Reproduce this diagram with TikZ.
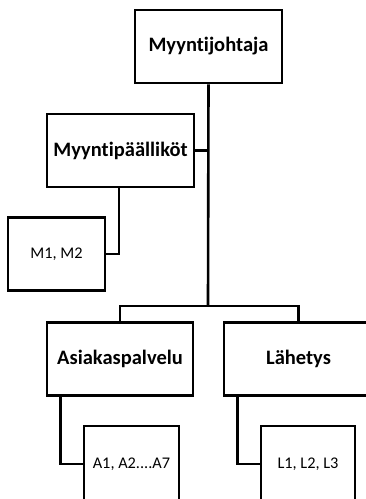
\documentclass[tikz,border=0pt]{standalone}
\usepackage{fontspec}
\setmainfont{Carlito}[Ligatures=NoCommon]
\begin{document}
\begin{tikzpicture}[x=1pt,y=-1pt,
  box/.style={draw=black,fill=white,line width=2.6pt,inner sep=0pt,
    minimum width=#1,minimum height=73pt},
  box/.default=146pt,
  big/.style={font=\fontsize{20.5}{22}\selectfont\bfseries},
  small/.style={font=\fontsize{16.3}{18}\selectfont},
  conn/.style={draw=black,line width=2.6pt}]
\useasboundingbox[fill=white] (0,0) rectangle (366,499);
\node[box=147pt,big] (top) at (208.5,46.5) {Myyntijohtaja};
\node[box=147pt,big] (mp) at (120.5,150.5) {Myyntipäälliköt};
\node[box=97pt,small] (m) at (56.5,254) {M1, M2};
\node[box=146pt,big] (asia) at (120,359) {Asiakaspalvelu};
\node[box=149pt,big] (lah) at (298.5,359) {Lähetys};
\node[box=95pt,minimum height=76pt,small] (a) at (131.5,464) {A1, A2....A7};
\node[box=94pt,minimum height=76pt,small] (l) at (308,464) {L1, L2, L3};
\coordinate (j1) at (208,306);
\draw[conn] (top.south) -- (j1);
\draw[conn] (asia.north) |- (j1) -| (lah.north);
\draw[conn] (mp.east) -- (mp.east -| top.south);
\draw[conn] ([xshift=-1.5pt]mp.south) |- (m.east);
\draw[conn] ([xshift=15pt]asia.south west) |- (a.west);
\draw[conn] ([xshift=15pt]lah.south west) |- (l.west);
\end{tikzpicture}
\end{document}
